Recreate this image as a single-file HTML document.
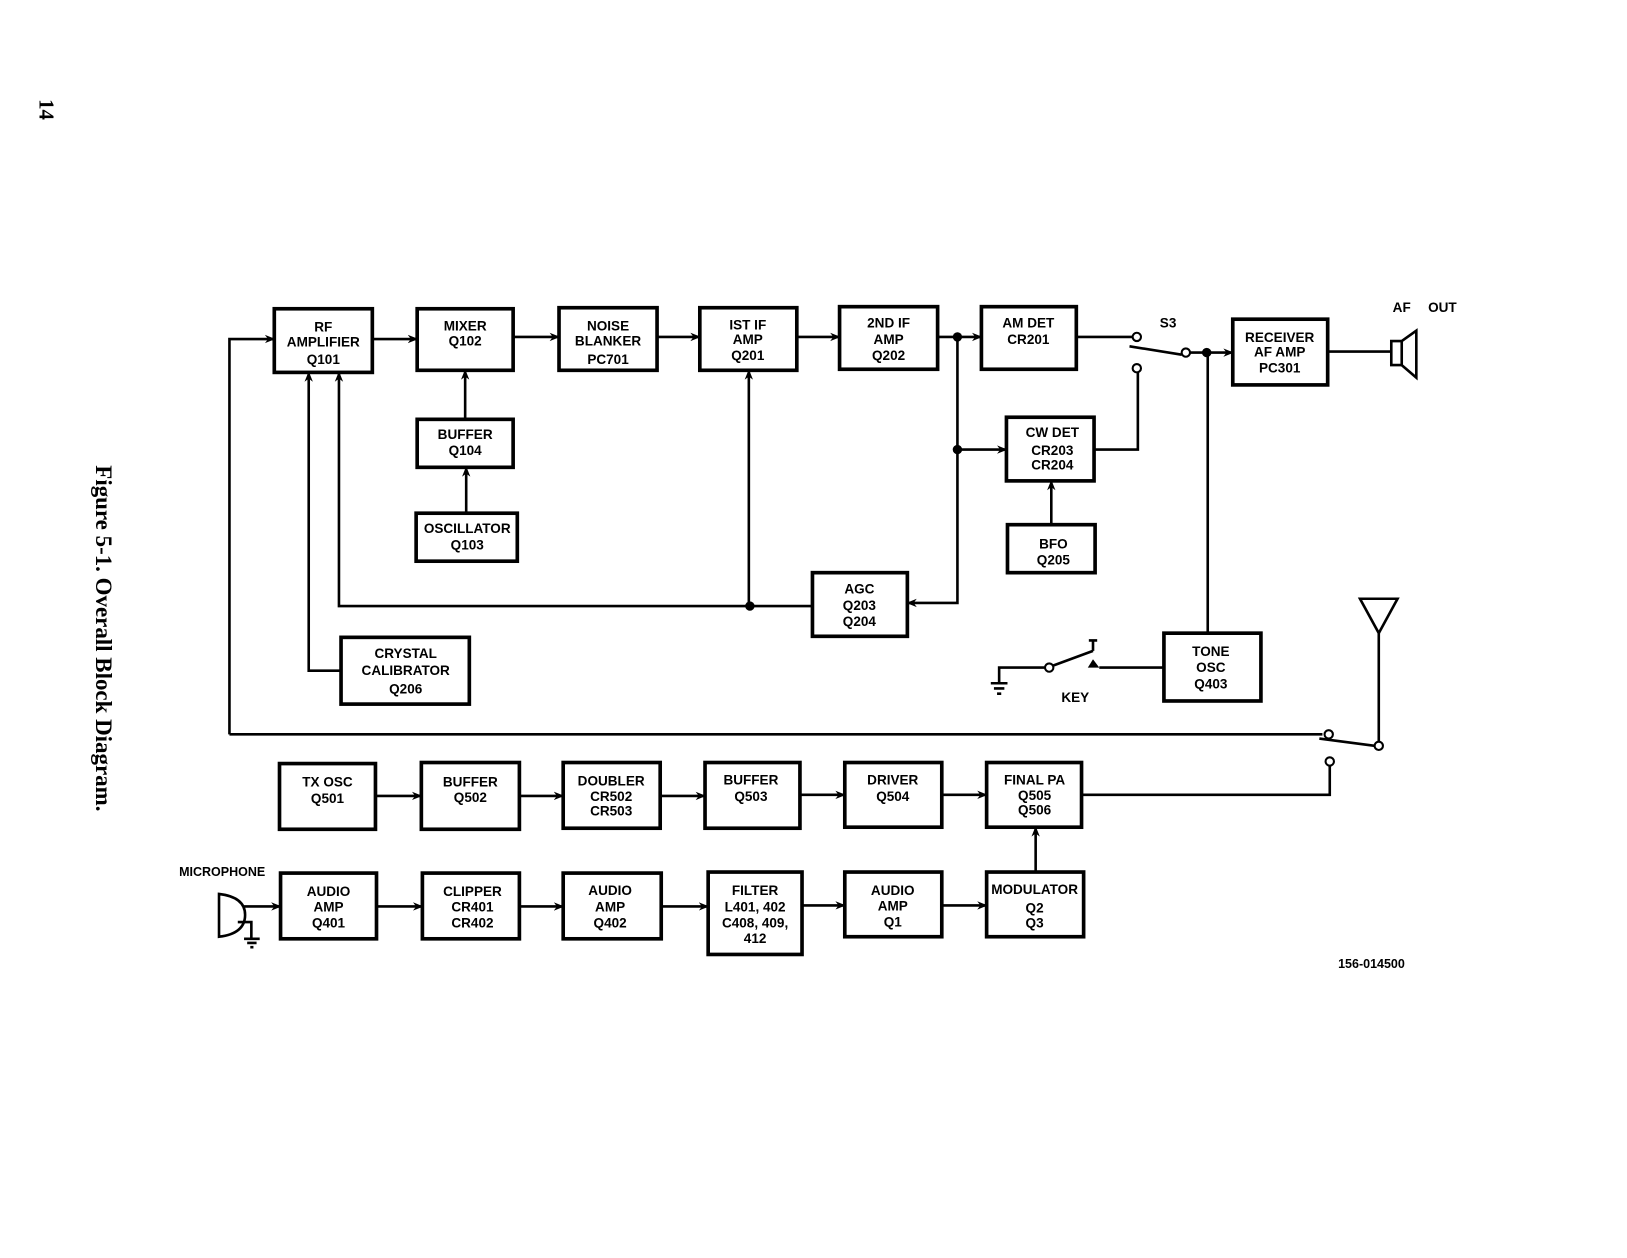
<!DOCTYPE html>
<html><head><meta charset="utf-8"><style>
html,body{margin:0;padding:0;background:#fff;}
svg{display:block;}
.b{fill:#fff;stroke:#000;stroke-width:3.5;}
.l{fill:none;stroke:#000;stroke-width:2.5;}
text{font-family:"Liberation Sans",sans-serif;font-weight:bold;font-size:13px;text-anchor:middle;fill:#000;}
.c{fill:#fff;stroke:#000;stroke-width:2;}
</style></head><body>
<svg width="1627" height="1258" viewBox="0 0 1560 1206" preserveAspectRatio="none" xmlns="http://www.w3.org/2000/svg">
<defs><marker id="a" markerWidth="10" markerHeight="10" refX="9" refY="5" orient="auto" markerUnits="userSpaceOnUse"><path d="M0,1 L10,5 L0,9 L3,5 Z" fill="#000"/></marker></defs>

<text x="38" y="105" transform="rotate(90 38 105)" style="font-family:'Liberation Serif',serif;font-size:20px">14</text>
<text x="92" y="612" transform="rotate(90 92 612)" style="font-family:'Liberation Serif',serif;font-size:22px">Figure 5-1.   Overall Block Diagram.</text>

<!-- connectors -->
<g class="l">
<path d="M220,704 V325 H263" marker-end="url(#a)"/>
<path d="M220,704 H1268"/>
<path d="M357,325 H400" marker-end="url(#a)"/>
<path d="M492,323 H536" marker-end="url(#a)"/>
<path d="M630,323 H671" marker-end="url(#a)"/>
<path d="M764,323 H805" marker-end="url(#a)"/>
<path d="M899,323 H941" marker-end="url(#a)"/>
<path d="M918,323 V578 H870" marker-end="url(#a)"/>
<path d="M918,431 H965" marker-end="url(#a)"/>
<path d="M779,581 H325 V357" marker-end="url(#a)"/>
<path d="M718,581 V355" marker-end="url(#a)"/>
<path d="M327,643 H296 V357" marker-end="url(#a)"/>
<path d="M446,402 V355" marker-end="url(#a)"/>
<path d="M447,492 V448" marker-end="url(#a)"/>
<path d="M1008,503 V461" marker-end="url(#a)"/>
<path d="M1032,323 H1086"/>
<path d="M1049,431 H1091 V357"/>
<path d="M1083,332 L1133,340"/>
<path d="M1141,338 H1182" marker-end="url(#a)"/>
<path d="M1158,338 V607"/>
<path d="M1273,337 H1334"/>
<path d="M1334,327 H1344 V350 H1334 Z M1344,327 L1358,317 V362 L1344,350"/>
<path d="M958,655 V640 H1002"/>
<path d="M950,655 H966 M953,660 H963 M956,665 H960"/>
<path d="M1010,638 L1048,624 M1044,614 H1052 M1048,614 V624"/>
<path d="M1054,640 H1116"/>
<path d="M1265,708 L1318,715"/>
<path d="M1322,712 V607"/>
<path d="M1304,574 H1340 L1322,607 Z"/>
<path d="M1275,734 V762 H1037"/>
<path d="M360,763 H404" marker-end="url(#a)"/>
<path d="M498,763 H540" marker-end="url(#a)"/>
<path d="M633,763 H676" marker-end="url(#a)"/>
<path d="M767,762 H810" marker-end="url(#a)"/>
<path d="M903,762 H946" marker-end="url(#a)"/>
<path d="M993,836 V793" marker-end="url(#a)"/>
<path d="M234,869 H269" marker-end="url(#a)"/>
<path d="M361,869 H405" marker-end="url(#a)"/>
<path d="M498,869 H540" marker-end="url(#a)"/>
<path d="M634,869 H679" marker-end="url(#a)"/>
<path d="M769,868 H810" marker-end="url(#a)"/>
<path d="M903,868 H946" marker-end="url(#a)"/>
<path d="M210,857 Q235,860 235,877 Q235,895 210,898 Z"/>
<path d="M228,884 H241 V900 M234,900 H249 M237,904 H246 M240,908 H243"/>
</g>
<path d="M1048,632 L1054,640 H1043 Z" fill="#000"/>
<g fill="#000"><circle cx="918" cy="323" r="4.5"/><circle cx="918" cy="431" r="4.5"/><circle cx="719" cy="581" r="4.5"/><circle cx="1157" cy="338" r="4.5"/></g>
<g class="c"><circle cx="1090" cy="323" r="4"/><circle cx="1090" cy="353" r="4"/><circle cx="1137" cy="338" r="4"/><circle cx="1006" cy="640" r="4"/><circle cx="1274" cy="704" r="4"/><circle cx="1322" cy="715" r="4"/><circle cx="1275" cy="730" r="4"/></g>

<!-- boxes -->
<g class="b">
<rect x="263" y="296" width="94" height="61"/><rect x="400" y="296" width="92" height="59"/>
<rect x="536" y="295" width="94" height="60"/><rect x="671" y="295" width="93" height="60"/>
<rect x="805" y="294" width="94" height="60"/><rect x="941" y="294" width="91" height="60"/>
<rect x="1182" y="306" width="91" height="63"/><rect x="400" y="402" width="92" height="46"/>
<rect x="399" y="492" width="97" height="46"/><rect x="965" y="400" width="84" height="61"/>
<rect x="966" y="503" width="84" height="46"/><rect x="779" y="549" width="91" height="61"/>
<rect x="327" y="611" width="123" height="64"/><rect x="1116" y="607" width="93" height="65"/>
<rect x="268" y="732" width="92" height="63"/><rect x="404" y="731" width="94" height="64"/>
<rect x="540" y="731" width="93" height="63"/><rect x="676" y="731" width="91" height="63"/>
<rect x="810" y="731" width="93" height="62"/><rect x="946" y="731" width="91" height="62"/>
<rect x="269" y="837" width="92" height="63"/><rect x="405" y="837" width="93" height="63"/>
<rect x="540" y="837" width="94" height="63"/><rect x="679" y="836" width="90" height="79"/>
<rect x="810" y="836" width="93" height="62"/><rect x="946" y="836" width="93" height="62"/>
</g>

<g>
<text x="310" y="318">RF</text><text x="310" y="332">AMPLIFIER</text><text x="310" y="349">Q101</text>
<text x="446" y="317">MIXER</text><text x="446" y="331">Q102</text>
<text x="583" y="317">NOISE</text><text x="583" y="331">BLANKER</text><text x="583" y="349">PC701</text>
<text x="717" y="316">IST IF</text><text x="717" y="330">AMP</text><text x="717" y="345">Q201</text>
<text x="852" y="314">2ND IF</text><text x="852" y="330">AMP</text><text x="852" y="345">Q202</text>
<text x="986" y="314">AM DET</text><text x="986" y="330">CR201</text>
<text x="1227" y="328">RECEIVER</text><text x="1227" y="342">AF AMP</text><text x="1227" y="357">PC301</text>
<text x="446" y="421">BUFFER</text><text x="446" y="436">Q104</text>
<text x="448" y="511">OSCILLATOR</text><text x="448" y="527">Q103</text>
<text x="1009" y="419">CW DET</text><text x="1009" y="436">CR203</text><text x="1009" y="450">CR204</text>
<text x="1010" y="526">BFO</text><text x="1010" y="541">Q205</text>
<text x="824" y="569">AGC</text><text x="824" y="585">Q203</text><text x="824" y="600">Q204</text>
<text x="389" y="631">CRYSTAL</text><text x="389" y="647">CALIBRATOR</text><text x="389" y="665">Q206</text>
<text x="1161" y="629">TONE</text><text x="1161" y="644">OSC</text><text x="1161" y="660">Q403</text>
<text x="314" y="754">TX OSC</text><text x="314" y="770">Q501</text>
<text x="451" y="754">BUFFER</text><text x="451" y="769">Q502</text>
<text x="586" y="753">DOUBLER</text><text x="586" y="768">CR502</text><text x="586" y="782">CR503</text>
<text x="720" y="752">BUFFER</text><text x="720" y="768">Q503</text>
<text x="856" y="752">DRIVER</text><text x="856" y="768">Q504</text>
<text x="992" y="752">FINAL  PA</text><text x="992" y="767">Q505</text><text x="992" y="781">Q506</text>
<text x="315" y="859">AUDIO</text><text x="315" y="874">AMP</text><text x="315" y="889">Q401</text>
<text x="453" y="859">CLIPPER</text><text x="453" y="874">CR401</text><text x="453" y="889">CR402</text>
<text x="585" y="858">AUDIO</text><text x="585" y="874">AMP</text><text x="585" y="889">Q402</text>
<text x="724" y="858">FILTER</text><text x="724" y="874">L401, 402</text><text x="724" y="889">C408, 409,</text><text x="724" y="904">412</text>
<text x="856" y="858">AUDIO</text><text x="856" y="873">AMP</text><text x="856" y="888">Q1</text>
<text x="992" y="857">MODULATOR</text><text x="992" y="875">Q2</text><text x="992" y="889">Q3</text>
<text x="1120" y="314">S3</text>
<text x="1344" y="299">AF</text><text x="1383" y="299">OUT</text>
<text x="1031" y="673">KEY</text>
<text x="213" y="840" style="font-size:12px">MICROPHONE</text>
<text x="1315" y="928" style="font-size:12px">156-014500</text>
</g>
</svg>
</body></html>
